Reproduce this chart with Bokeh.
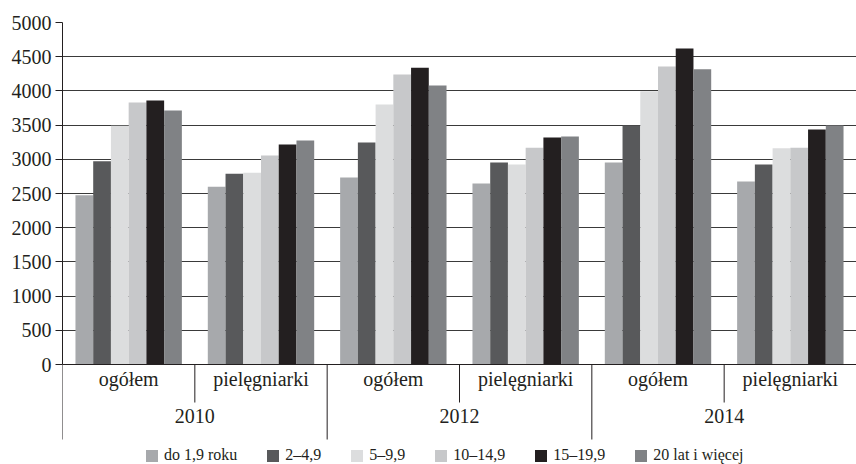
import math
from bokeh.plotting import figure
from bokeh.models import (FactorRange, Range1d, FixedTicker, ColumnDataSource,
                          Span, Legend, LegendItem)
from bokeh.transform import dodge
from bokeh.core.properties import value
from bokeh.embed import file_html
from bokeh.resources import INLINE

# ---------------- data ----------------
years = ["2010", "2012", "2014"]
groups = ["ogółem", "pielęgniarki"]
series = ["do 1,9 roku", "2–4,9", "5–9,9", "10–14,9", "15–19,9", "20 lat i więcej"]
colors = ["#a7a9ac", "#58595b", "#dcddde", "#c7c8ca", "#231f20", "#808285"]

# order: 2010 ogółem, 2010 pielęgniarki, 2012 ogółem, 2012 pielęgniarki, 2014 ogółem, 2014 pielęgniarki
do_1_9 = [2475, 2600, 2735, 2645, 2955, 2675]
od_2_4_9 = [2970, 2790, 3245, 2955, 3495, 2925]
od_5_9_9 = [3490, 2805, 3800, 2925, 3995, 3160]
od_10_14_9 = [3830, 3055, 4240, 3170, 4355, 3170]
od_15_19_9 = [3860, 3215, 4340, 3320, 4620, 3435]
od_20 = [3715, 3275, 4080, 3335, 4315, 3495]
values = [do_1_9, od_2_4_9, od_5_9_9, od_10_14_9, od_15_19_9, od_20]

y_ticks = [0, 500, 1000, 1500, 2000, 2500, 3000, 3500, 4000, 4500, 5000]
Y_MAX = 5000

FONT = "Liberation Serif"
INK = "#231f20"

# ---------------- layout ----------------
ZERO_PX = 342      # pixels from top of frame to the value 0
BELOW_PX = 100     # pixels of frame below the value 0 (label rows + legend)
y_start = -Y_MAX * BELOW_PX / ZERO_PX

factors = [(y, g) for y in years for g in groups]
x_range = FactorRange(*factors, factor_padding=0, group_padding=0, range_padding=0)

p = figure(x_range=x_range, y_range=Range1d(y_start, Y_MAX),
           frame_width=794, frame_height=ZERO_PX + BELOW_PX,
           min_border_left=62, min_border_right=0, min_border_top=22, min_border_bottom=0,
           x_axis_location=None, output_backend="svg", toolbar_location=None,
           outline_line_color=None, background_fill_color="white")

data = dict(x=factors)
for i, v in enumerate(values):
    data[f"s{i}"] = v
source = ColumnDataSource(data)

BAR_W = 0.134
renderers = []
for i, (name, col) in enumerate(zip(series, colors)):
    r = p.vbar(x=dodge("x", (i - 2.5) * BAR_W, range=p.x_range), top=f"s{i}",
               width=BAR_W, bottom=0, source=source,
               fill_color=col, line_color=None)
    renderers.append(r)

# y axis
p.yaxis.ticker = FixedTicker(ticks=y_ticks)
p.yaxis.bounds = (0, Y_MAX)
p.yaxis.axis_line_color = INK
p.yaxis.axis_line_width = 1
p.yaxis.major_tick_line_color = INK
p.yaxis.major_tick_out = 7
p.yaxis.major_tick_in = 0
p.yaxis.minor_tick_line_color = None
p.yaxis.major_label_standoff = 4
p.yaxis.major_label_text_font = FONT
p.yaxis.major_label_text_font_size = "20px"
p.yaxis.major_label_text_color = INK

p.ygrid.ticker = FixedTicker(ticks=y_ticks)
p.ygrid.grid_line_color = "#3a3a3a"
p.ygrid.grid_line_width = 1
p.xgrid.visible = False

# x axis line at 0
p.add_layout(Span(location=0, dimension="width", line_color=INK, line_width=1))

# category separators (left edge of "pielęgniarki" in each year)
sep_src = ColumnDataSource(dict(x=[(y, groups[1]) for y in years]))
p.ray(x=dodge("x", -0.5, range=p.x_range), y=0, length=38, angle=-math.pi / 2,
      length_units="screen", source=sep_src, line_color=INK, line_width=1)
# year separators (left edge of each year)
ysep_src = ColumnDataSource(dict(x=[(y, groups[0]) for y in years]))
p.ray(x=dodge("x", -0.5, range=p.x_range), y=0, length=75, angle=-math.pi / 2,
      length_units="screen", source=ysep_src, line_color=INK, line_width=1)

# category labels
cat_src = ColumnDataSource(dict(x=factors, t=[g for (_, g) in factors]))
p.text(x="x", y=0, text="t", source=cat_src, y_offset=14,
       text_align="center", text_baseline="alphabetic",
       text_font=value(FONT), text_font_size="20px", text_color=INK)
# year labels
yr_src = ColumnDataSource(dict(x=years, t=years))
p.text(x="x", y=0, text="t", source=yr_src, y_offset=51,
       text_align="center", text_baseline="alphabetic",
       text_font=value(FONT), text_font_size="20px", text_color=INK)

legend = Legend(items=[LegendItem(label=n, renderers=[r]) for n, r in zip(series, renderers)],
                orientation="horizontal", location=(82, 0), spacing=28,
                padding=0, margin=0, glyph_width=15, glyph_height=15,
                label_standoff=5, label_height=15,
                label_text_font=FONT, label_text_font_size="16px", label_text_color=INK,
                border_line_color=None, background_fill_alpha=0)
p.add_layout(legend)

open("out.html", "w").write(file_html(p, INLINE))
